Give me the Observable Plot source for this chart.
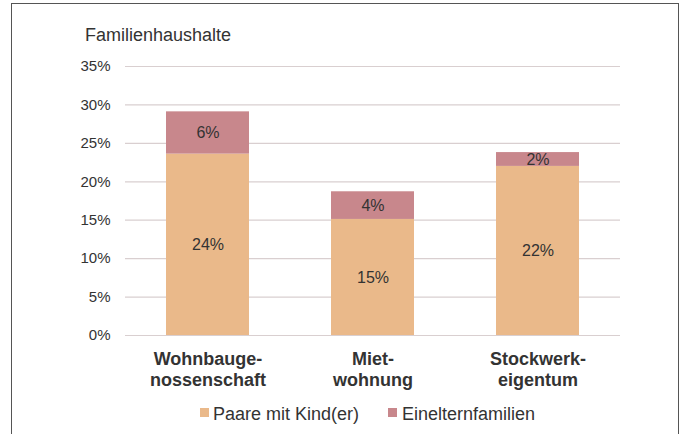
<!DOCTYPE html>
<html><head><meta charset="utf-8">
<script src="https://cdn.jsdelivr.net/npm/d3@7"></script>
<script src="https://cdn.jsdelivr.net/npm/@observablehq/plot@0.6"></script>
<style>
body{margin:0;background:#fff;font-family:"Liberation Sans",Arial,sans-serif;}
#wrap{position:relative;width:689px;height:434px;overflow:hidden;background:#fff;}
#frame{position:absolute;left:11px;top:3px;width:668px;height:470px;border:1.5px solid #555;box-sizing:border-box;}
#title{position:absolute;left:85px;top:25px;font-size:18px;line-height:20px;color:#333;}
#chart{position:absolute;left:0;top:0;}
.leg{position:absolute;top:404px;font-size:18px;line-height:20px;color:#333;white-space:nowrap;}
.sw{position:absolute;top:408px;width:9px;height:9px;}
</style>
</head><body>
<div id="wrap">
  <div id="frame"></div>
  <div id="chart"></div>
  <div id="title">Familienhaushalte</div>
  <div id="legend"></div>
</div>
<script>
const categories = ["Wohnbauge-\nnossenschaft", "Miet-\nwohnung", "Stockwerk-\neigentum"];
const series = ["Paare mit Kind(er)", "Einelternfamilien"];
const paare = [23.6, 15.1, 22.0];
const einel = [5.5, 3.6, 1.8];
const yTicks = [0, 5, 10, 15, 20, 25, 30, 35];
const colors = ["#EAB98A", "#C8878C"];

const data = [];
categories.forEach((c, i) => data.push({cat: c, series: series[0], value: paare[i]}));
categories.forEach((c, i) => data.push({cat: c, series: series[1], value: einel[i]}));

const chart = Plot.plot({
  width: 689, height: 395,
  marginLeft: 125, marginRight: 69, marginTop: 66, marginBottom: 60,
  style: {fontFamily: '"Liberation Sans", Arial, sans-serif', color: "#333", background: "transparent"},
  x: {domain: categories, paddingInner: 0.5, paddingOuter: 0.25, label: null},
  y: {domain: [0, 35], label: null},
  color: {domain: series, range: colors},
  marks: [
    Plot.ruleY(yTicks, {stroke: "#d9cfd0", strokeWidth: 1.2}),
    Plot.barY(data, {x: "cat", y: "value", fill: "series"}),
    Plot.text(data, Plot.stackY({x: "cat", y: "value", z: "series", text: d => Math.round(d.value) + "%", fontSize: 16, fill: "#333"})),
    Plot.axisY({ticks: yTicks, tickFormat: d => d + "%", tickSize: 0, tickPadding: 15, fontSize: 15, label: null}),
    Plot.axisX({tickSize: 0, tickPadding: 14, fontSize: 18, fontWeight: "bold", lineHeight: 1.2, label: null})
  ]
});
document.getElementById("chart").appendChild(chart);

const legend = document.getElementById("legend");
const legX = [[200, 213], [388, 402]];
series.forEach((s, i) => {
  const sw = document.createElement("div");
  sw.className = "sw"; sw.style.left = legX[i][0] + "px"; sw.style.background = colors[i];
  legend.appendChild(sw);
  const t = document.createElement("div");
  t.className = "leg"; t.style.left = legX[i][1] + "px"; t.textContent = s;
  legend.appendChild(t);
});
</script>
</body></html>
